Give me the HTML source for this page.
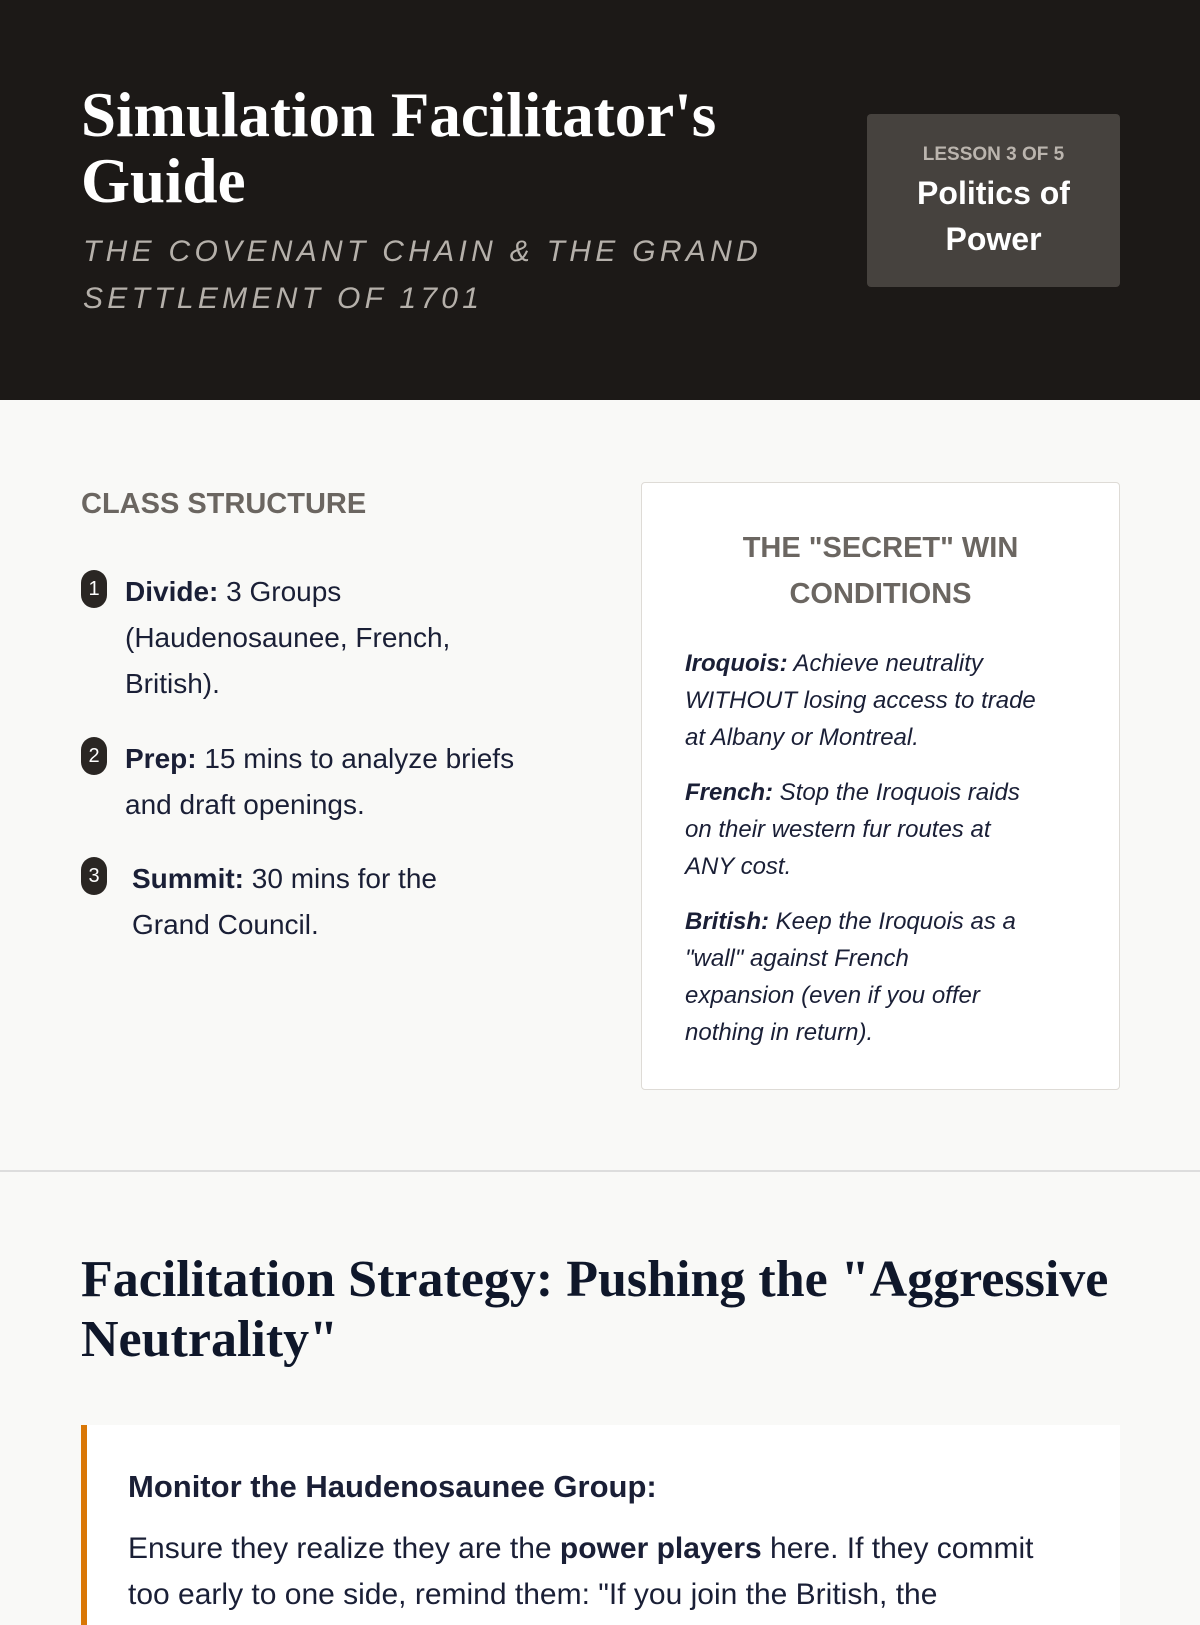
<!DOCTYPE html>
<html><head><meta charset="utf-8"><style>
*{margin:0;padding:0;box-sizing:border-box}
body{width:1200px;height:1600px;overflow:hidden;background:#f9f9f7;font-family:"Liberation Sans",sans-serif;color:#1a1f36}
.hdr{height:400px;background:#1c1917;position:relative}
.t{position:absolute;left:81px;top:82px;font-family:"Liberation Serif",serif;font-weight:bold;color:#fff;font-size:63px;line-height:66px;width:760px}
.sub{position:absolute;left:83px;top:228px;font-style:italic;color:#b5b0aa;font-size:30px;letter-spacing:4.3px;line-height:47px;width:760px}
.badge{position:absolute;left:867px;top:114px;width:253px;height:173px;background:#46423e;border-radius:4px;text-align:center;color:#fff}
.badge .l{font-size:19px;color:#bbb5ae;font-weight:bold;margin-top:30px}
.badge .p{font-size:32px;font-weight:bold;line-height:46px;margin-top:4px}
.cs{position:absolute;left:81px;top:488px;font-size:29px;font-weight:bold;color:#6b6661}
.item{position:absolute;font-size:28px;line-height:46px;color:#1a1f36}
.num{position:absolute;width:26px;height:38px;border-radius:13px;background:#2a2623;color:#fff;font-size:20px;text-align:center;line-height:38px}
.win{position:absolute;left:641px;top:482px;width:479px;height:608px;background:#fff;border:1px solid #dedbd6;border-radius:4px}
.win h3{text-align:center;font-size:29px;color:#6b6661;line-height:46px;margin-top:42px}
.win p{font-style:italic;font-size:24px;line-height:37px;margin:18px 20px 0 43px;color:#1a1f36;white-space:nowrap}
.hr{position:absolute;top:1170px;left:0;width:1200px;height:2px;background:#ddd}
.fh{position:absolute;left:81px;top:1250px;font-family:"Liberation Serif",serif;font-weight:bold;font-size:52px;line-height:60px;color:#0f172a;width:1060px}
.call{position:absolute;left:81px;top:1425px;width:1039px;height:200px;background:#fff;border-left:6px solid #d97706}
.call h4{position:absolute;left:41px;top:44px;font-size:31px}
.call p{position:absolute;left:41px;top:101px;font-size:30px;line-height:46px;width:940px}
</style></head><body>
<div class="hdr">
<div class="t">Simulation Facilitator's Guide</div>
<div class="sub">THE COVENANT CHAIN &amp; THE GRAND SETTLEMENT OF 1701</div>
<div class="badge"><div class="l">LESSON 3 OF 5</div><div class="p">Politics of<br>Power</div></div>
</div>
<div class="cs">CLASS STRUCTURE</div>
<div class="num" style="left:81px;top:570px">1</div>
<div class="item" style="left:125px;top:569px;width:380px"><b>Divide:</b> 3 Groups (Haudenosaunee, French, British).</div>
<div class="num" style="left:81px;top:737px">2</div>
<div class="item" style="left:125px;top:736px;width:440px"><b>Prep:</b> 15 mins to analyze briefs and draft openings.</div>
<div class="num" style="left:81px;top:857px">3</div>
<div class="item" style="left:132px;top:856px;width:350px"><b>Summit:</b> 30 mins for the Grand Council.</div>
<div class="win">
<h3>THE "SECRET" WIN<br>CONDITIONS</h3>
<p style="margin-top:28px"><b>Iroquois:</b> Achieve neutrality<br>WITHOUT losing access to trade<br>at Albany or Montreal.</p>
<p><b>French:</b> Stop the Iroquois raids<br>on their western fur routes at<br>ANY cost.</p>
<p><b>British:</b> Keep the Iroquois as a<br>"wall" against French<br>expansion (even if you offer<br>nothing in return).</p>
</div>
<div class="hr"></div>
<div class="fh">Facilitation Strategy: Pushing the "Aggressive Neutrality"</div>
<div class="call">
<h4>Monitor the Haudenosaunee Group:</h4>
<p>Ensure they realize they are the <b>power players</b> here. If they commit too early to one side, remind them: "If you join the British, the</p>
</div>
</body></html>
